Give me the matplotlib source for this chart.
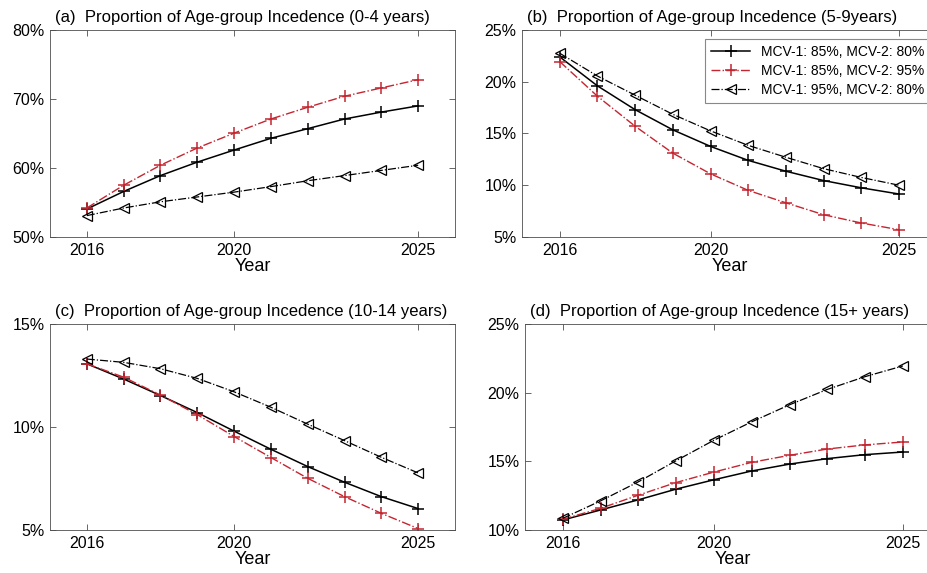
import matplotlib
matplotlib.use("Agg")
import matplotlib.pyplot as plt
from matplotlib.ticker import FuncFormatter

plt.rcParams['font.family'] = ['Liberation Sans', 'DejaVu Sans']

years = [2016, 2017, 2018, 2019, 2020, 2021, 2022, 2023, 2024, 2025]

labels = ["MCV-1: 85%, MCV-2: 80%",
          "MCV-1: 85%, MCV-2: 95%",
          "MCV-1: 95%, MCV-2: 80%"]

titles = ["(a)  Proportion of Age-group Incedence (0-4 years)",
          "(b)  Proportion of Age-group Incedence (5-9years)",
          "(c)  Proportion of Age-group Incedence (10-14 years)",
          "(d)  Proportion of Age-group Incedence (15+ years)"]

# (a) 0-4 years
a_base = [54.05, 56.6, 58.9, 60.85, 62.6, 64.3, 65.7, 67.1, 68.1, 69.0]
a_mcv2 = [54.2, 57.5, 60.4, 62.9, 65.05, 67.1, 68.8, 70.4, 71.6, 72.8]
a_mcv1 = [53.1, 54.2, 55.1, 55.8, 56.5, 57.3, 58.15, 58.9, 59.65, 60.4]

# (b) 5-9 years
b_base = [22.4, 19.6, 17.3, 15.35, 13.75, 12.4, 11.35, 10.45, 9.75, 9.15]
b_mcv2 = [21.95, 18.6, 15.7, 13.1, 11.1, 9.5, 8.3, 7.15, 6.35, 5.7]
b_mcv1 = [22.75, 20.55, 18.7, 16.85, 15.25, 13.85, 12.7, 11.6, 10.75, 10.0]

# (c) 10-14 years
c_base = [13.07, 12.33, 11.53, 10.7, 9.8, 8.92, 8.08, 7.32, 6.62, 6.04]
c_mcv2 = [13.07, 12.42, 11.55, 10.6, 9.54, 8.52, 7.51, 6.62, 5.81, 5.07]
c_mcv1 = [13.3, 13.14, 12.83, 12.36, 11.71, 10.96, 10.14, 9.34, 8.53, 7.77]

# (d) 15+ years
d_base = [10.73, 11.46, 12.2, 12.98, 13.66, 14.3, 14.8, 15.2, 15.49, 15.68]
d_mcv2 = [10.78, 11.58, 12.54, 13.46, 14.22, 14.93, 15.44, 15.9, 16.2, 16.41]
d_mcv1 = [10.85, 12.12, 13.51, 15.05, 16.54, 17.88, 19.12, 20.24, 21.17, 21.95]

y_ticks = [[50, 60, 70, 80], [5, 10, 15, 20, 25], [5, 10, 15], [10, 15, 20, 25]]
x_ticks = [2016, 2020, 2025]

red = '#C42530'
box = '#4d4d4d'

fig = plt.figure(figsize=(9.28, 5.73), dpi=100)

# axes boxes in figure fractions, the right column runs past the edge
rects = [[0.0539, 0.5864, 0.4364, 0.3613],
         [0.5625, 0.5864, 0.447, 0.3613],
         [0.0539, 0.075, 0.4364, 0.3595],
         [0.5657, 0.075, 0.448, 0.3595]]

data = [(a_base, a_mcv2, a_mcv1), (b_base, b_mcv2, b_mcv1),
        (c_base, c_mcv2, c_mcv1), (d_base, d_mcv2, d_mcv1)]

pct = FuncFormatter(lambda v, p: "%d%%" % v)

for i in range(4):
    ax = fig.add_axes(rects[i])
    base, mcv2, mcv1 = data[i]
    ax.plot(years, base, color='black', linestyle='-', linewidth=1.1,
            marker='+', markersize=8, markeredgewidth=1.1, label=labels[0])
    ax.plot(years, mcv2, color=red, linestyle='-.', linewidth=1.0,
            marker='+', markersize=8, markeredgewidth=1.1, label=labels[1])
    ax.plot(years, mcv1, color='black', linestyle='-.', linewidth=0.9,
            marker='<', markersize=7, markerfacecolor='none',
            markeredgewidth=0.9, label=labels[2])

    ax.set_xlim(2015, 2026)
    ax.set_ylim(y_ticks[i][0], y_ticks[i][-1])
    ax.set_xticks(x_ticks)
    ax.set_yticks(y_ticks[i])
    ax.yaxis.set_major_formatter(pct)
    ax.tick_params(direction='in', top=True, right=True, length=4,
                   width=0.6, color=box, labelsize=11.5, pad=4)
    for s in ax.spines.values():
        s.set_color(box)
        s.set_linewidth(0.6)
    ax.set_xlabel("Year", fontsize=13, labelpad=0)
    ax.set_title(titles[i], loc='left', fontsize=12, x=0.012, pad=6)

    if i == 1:
        leg = ax.legend(loc='upper left', fontsize=10, handlelength=2.8,
                        fancybox=False, framealpha=1, borderpad=0.45,
                        labelspacing=0.35, borderaxespad=0,
                        bbox_to_anchor=(0.441, 0.9565))
        leg.get_frame().set_edgecolor('#888888')
        leg.get_frame().set_linewidth(0.8)

plt.savefig("out.png", dpi=100)
